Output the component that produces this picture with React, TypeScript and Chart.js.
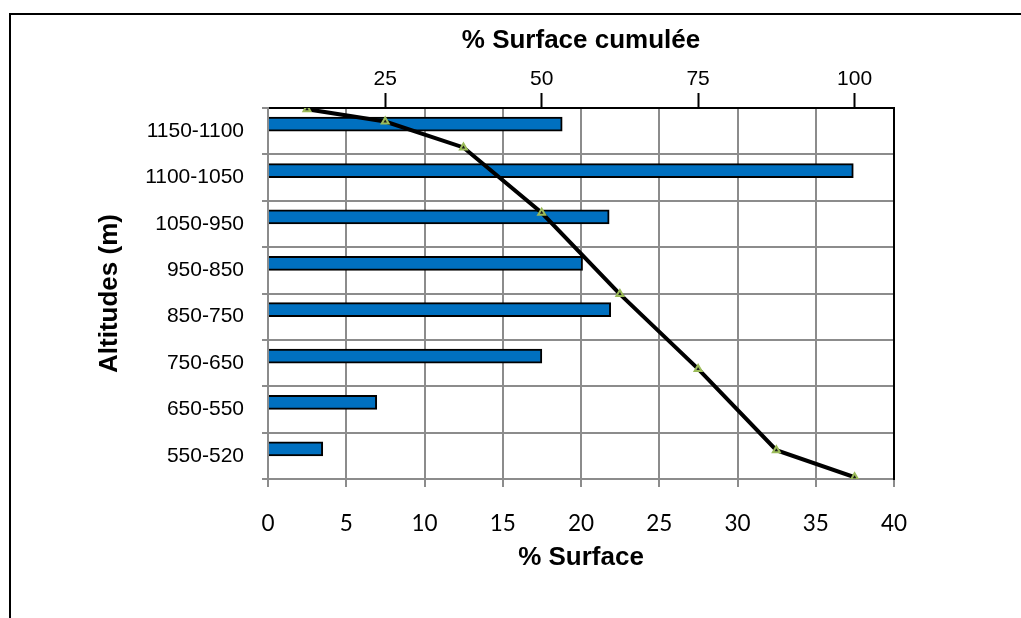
import React, { useEffect, useRef } from "react";
import { Chart, registerables } from "chart.js";

Chart.register(...registerables);

// ---- data ----
const categories = [
  "1150-1100",
  "1100-1050",
  "1050-950",
  "950-850",
  "850-750",
  "750-650",
  "650-550",
  "550-520",
];
const surfacePct = [18.8, 37.4, 21.8, 20.1, 21.9, 17.5, 6.95, 3.5];
const cumulSurfacePct = [12.5, 25, 37.5, 50, 62.5, 75, 87.5, 100];
const cumulAltitude = [1148, 1127, 1083, 972, 834, 707, 569, 523];
const topTickValues = [25, 50, 75, 100];
const bottomMin = 0;
const bottomMax = 40;
const bottomStep = 5;
const topMin = 6.27;
const topMax = 106.3;
const altMin = 520;
const altMax = 1150;

const GRID = "#8c8c8c";
const ARIAL = "'Liberation Sans', Arial, sans-serif";

export default function App() {
  const ref = useRef<HTMLCanvasElement | null>(null);

  useEffect(() => {
    if (!ref.current) return;
    const chart = new Chart(ref.current, {
      type: "bar",
      data: {
        labels: categories,
        datasets: [
          {
            type: "bar",
            label: "% Surface",
            data: surfacePct,
            backgroundColor: "#0070C0",
            borderColor: "#000000",
            borderWidth: 2,
            barThickness: 14,
            xAxisID: "x",
            yAxisID: "y",
            order: 2,
          } as any,
          {
            type: "line",
            label: "% Surface cumulée",
            indexAxis: "x",
            data: cumulSurfacePct.map((v, i) => ({ x: v, y: cumulAltitude[i] })),
            xAxisID: "x2",
            yAxisID: "yAlt",
            borderColor: "#000000",
            borderWidth: 4,
            tension: 0,
            fill: false,
            pointStyle: "triangle",
            pointRadius: 4,
            pointBorderWidth: 2,
            pointBorderColor: "#9BBB59",
            pointBackgroundColor: "#1a1a1a",
            order: 1,
          } as any,
        ],
      },
      options: {
        animation: false,
        responsive: false,
        indexAxis: "y",
        layout: { padding: 0 },
        plugins: {
          legend: { display: false },
          tooltip: { enabled: false },
        },
        scales: {
          x: {
            type: "linear",
            axis: "x",
            position: "bottom",
            min: bottomMin,
            max: bottomMax,
            ticks: {
              stepSize: bottomStep,
              color: "#000",
              font: { family: "Lato, 'Open Sans', sans-serif", size: 22.5 },
              padding: 23,
            },
            grid: {
              color: GRID,
              lineWidth: 2,
              tickLength: 8,
              tickColor: GRID,
            },
            border: { color: GRID, width: 2 },
            title: {
              display: true,
              text: "% Surface",
              color: "#000",
              font: { family: ARIAL, size: 26, weight: "bold" },
              padding: { top: 0, bottom: 45 },
            },
            afterFit: (s: any) => {
              s.height = 139;
            },
          },
          x2: {
            type: "linear",
            axis: "x",
            position: "top",
            offset: false,
            min: topMin,
            max: topMax,
            afterBuildTicks: (s: any) => {
              s.ticks = topTickValues.map((v) => ({ value: v }));
            },
            ticks: {
              color: "#000",
              font: { family: ARIAL, size: 21 },
              padding: 1,
            },
            grid: {
              display: true,
              drawOnChartArea: false,
              drawTicks: true,
              tickLength: 15,
              tickColor: "#000",
              tickWidth: 2,
            },
            border: { color: "#000", width: 2 },
            title: {
              display: true,
              text: "% Surface cumulée",
              color: "#000",
              font: { family: ARIAL, size: 26, weight: "bold" },
              padding: { top: 25, bottom: 0 },
            },
            afterFit: (s: any) => {
              s.height = 108;
            },
          },
          y: {
            type: "category",
            axis: "y",
            position: "left",
            offset: true,
            ticks: {
              color: "#000",
              font: { family: ARIAL, size: 21 },
              padding: 18,
            },
            grid: {
              offset: true,
              color: GRID,
              lineWidth: 2,
              tickLength: 6,
              tickColor: GRID,
            },
            border: { color: GRID, width: 2 },
            title: {
              display: true,
              text: "Altitudes (m)",
              color: "#000",
              font: { family: ARIAL, size: 26, weight: "bold" },
              padding: { top: 94, bottom: 0 },
            },
            afterFit: (s: any) => {
              s.width = 268;
            },
          },
          yAlt: {
            type: "linear",
            axis: "y",
            position: "right",
            offset: false,
            min: altMin,
            max: altMax,
            ticks: { display: false },
            grid: { display: true, offset: false, drawOnChartArea: false, drawTicks: false },
            border: { color: "#000", width: 2 },
            afterFit: (s: any) => {
              s.width = 127;
            },
          },
        },
      } as any,
    });
    return () => chart.destroy();
  }, []);

  return (
    <div
      style={{
        position: "fixed",
        left: 0,
        top: 0,
        width: 1021,
        height: 618,
        overflow: "hidden",
        background: "#fff",
      }}
    >
      <canvas ref={ref} width={1021} height={618} style={{ display: "block" }} />
      <div
        style={{
          position: "absolute",
          left: 9,
          top: 13,
          width: 3000,
          height: 3000,
          border: "2px solid #000",
          pointerEvents: "none",
        }}
      />
    </div>
  );
}
